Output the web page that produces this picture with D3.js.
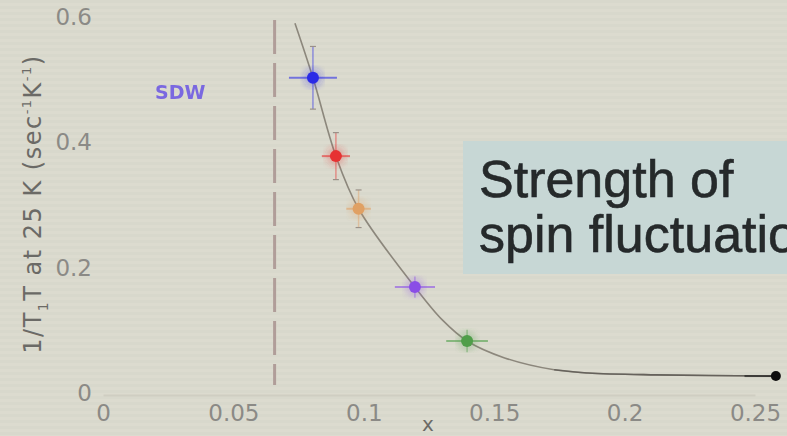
<!DOCTYPE html>
<html lang="en">
<head>
<meta charset="utf-8">
<title>Spin fluctuation</title>
<style type="text/css">
  body { margin: 0; background: #dcdbcf; }
  svg { display: block; }
</style>
</head>
<body>
<script src="https://d3js.org/d3.v7.min.js"></script>
<script>

    // data
    var xTicks = [0, 0.05, 0.1, 0.15, 0.2, 0.25];
    var yTicks = [0, 0.2, 0.4, 0.6];

    var pointX   = [0.0805, 0.0893, 0.098, 0.1196, 0.1396, 0.258];
    var pointY   = [0.503, 0.378, 0.294, 0.169, 0.083, 0.027];
    var pointXErr = [0.0092, 0.0054, 0.0047, 0.0077, 0.008, 0.012];
    var pointYErr = [0.05, 0.0375, 0.03, 0.017, 0.018, 0];
    var pointColor = ["#2b2be6", "#e63232", "#e0a064", "#8a4ee6", "#4f9e4a", "#111111"];

    var curveX = [0.0736, 0.0805, 0.0893, 0.098, 0.1196, 0.130, 0.1396, 0.154, 0.173, 0.186, 0.212, 0.258];
    var curveY = [0.590, 0.503, 0.378, 0.294, 0.169, 0.117, 0.083, 0.056, 0.037, 0.032, 0.029, 0.027];

    var sdwBoundary = 0.0658;

    var W = 787, H = 436;
    var margin = {left: 103, top: 17};
    var width = 652, height = 376;

    var svg = d3.select("body").append("svg")
        .attr("width", W)
        .attr("height", H);

    // faint horizontal banding of the projected slide
    var bands = svg.append("g");
    bands.selectAll("rect")
        .data(d3.range(0, H, 6))
        .enter()
        .append("rect")
        .attr("x", 0).attr("y", function(d){ return d; })
        .attr("width", W).attr("height", 3)
        .attr("fill", "#d6d5c9")
        .attr("opacity", 0.6);

    var defs = svg.append("defs");
    defs.append("filter").attr("id", "soft")
        .append("feGaussianBlur").attr("stdDeviation", 0.7);
    defs.append("filter").attr("id", "glow")
        .append("feGaussianBlur").attr("stdDeviation", 3);

    var xScale = d3.scaleLinear().domain([0, 0.25]).range([0, width]);
    var yScale = d3.scaleLinear().domain([0, 0.6]).range([height, 0]);

    var g = svg.append("g")
        .attr("transform", "translate(" + margin.left + "," + margin.top + ")");

    // text box
    svg.append("rect")
        .attr("x", 463).attr("y", 141)
        .attr("width", 330).attr("height", 133)
        .attr("fill", "#c7d7d5");
    var box = svg.append("text")
        .attr("font-family", "Liberation Sans, Arial, sans-serif")
        .attr("font-size", 52)
        .attr("fill", "#25292b")
        .attr("stroke", "#25292b")
        .attr("stroke-width", 0.6)
        .attr("filter", "url(#soft)");
    box.append("tspan").attr("x", 479).attr("y", 197).text("Strength of");
    box.append("tspan").attr("x", 479).attr("y", 252).text("spin fluctuation");

    // axes
    var xAxis = d3.axisBottom(xScale).tickValues(xTicks).tickSize(0).tickPadding(12)
        .tickFormat(d3.format("~g"));
    var xAxisGroup = g.append("g")
        .attr("transform", "translate(0," + height + ")")
        .call(xAxis);
    xAxisGroup.select(".domain").attr("stroke", "#cfcec2").attr("stroke-width", 2)
        .attr("transform", "translate(0,2)");
    xAxisGroup.selectAll("text")
        .attr("font-family", "DejaVu Sans, sans-serif")
        .attr("font-size", 23)
        .attr("fill", "#8b8a86");

    var yAxis = d3.axisLeft(yScale).tickValues(yTicks).tickSize(0).tickPadding(11)
        .tickFormat(d3.format("~g"));
    var yAxisGroup = g.append("g").call(yAxis);
    yAxisGroup.select(".domain").remove();
    yAxisGroup.selectAll("text")
        .attr("font-family", "DejaVu Sans, sans-serif")
        .attr("font-size", 23)
        .attr("fill", "#8b8a86");

    // axis titles
    var yLabel = svg.append("text")
        .attr("transform", "translate(41,204) rotate(-90)")
        .attr("text-anchor", "middle")
        .attr("font-family", "DejaVu Sans, sans-serif")
        .attr("font-size", 24)
        .attr("letter-spacing", 1.5)
        .attr("fill", "#6b6a66");
    yLabel.append("tspan").text("1/T");
    yLabel.append("tspan").attr("font-size", 14).attr("dy", 7).text("1");
    yLabel.append("tspan").attr("dy", -7).text("T at 25 K (sec");
    yLabel.append("tspan").attr("font-size", 13).attr("dy", -10).text("-1");
    yLabel.append("tspan").attr("dy", 10).text("K");
    yLabel.append("tspan").attr("font-size", 13).attr("dy", -10).text("-1");
    yLabel.append("tspan").attr("dy", 10).text(")");

    svg.append("text")
        .attr("x", 428).attr("y", 431)
        .attr("text-anchor", "middle")
        .attr("font-family", "DejaVu Sans, sans-serif")
        .attr("font-size", 20)
        .attr("fill", "#6b6a66")
        .text("x");

    svg.append("text")
        .attr("x", 155).attr("y", 99)
        .attr("font-family", "DejaVu Sans, sans-serif")
        .attr("font-weight", "bold")
        .attr("font-size", 19)
        .attr("fill", "#7a68e0")
        .attr("filter", "url(#soft)")
        .text("SDW");

    // SDW boundary
    g.append("line")
        .attr("x1", xScale(sdwBoundary)).attr("x2", xScale(sdwBoundary))
        .attr("y1", 3).attr("y2", height - 8)
        .attr("stroke", "#b09d99")
        .attr("stroke-width", 3)
        .attr("stroke-dasharray", "34,9");

    // fit curve
    var curveData = curveX.map(function(d, i){ return [d, curveY[i]]; });
    var line = d3.line()
        .x(function(d){ return xScale(d[0]); })
        .y(function(d){ return yScale(d[1]); })
        .curve(d3.curveCatmullRom.alpha(0.5));
    g.append("path")
        .datum(curveData)
        .attr("d", line)
        .attr("fill", "none")
        .attr("stroke", "#8c877c")
        .attr("stroke-width", 1.6);
    g.append("path")
        .datum(curveData.slice(-4))
        .attr("d", line)
        .attr("fill", "none")
        .attr("stroke", "#55534e")
        .attr("stroke-width", 1.6)
        .attr("opacity", 0.7);

    // points with error bars
    var points = pointX.map(function(d, i){
        return {x: d, y: pointY[i], ex: pointXErr[i], ey: pointYErr[i], c: pointColor[i]};
    });

    var pts = g.selectAll(".pt")
        .data(points)
        .enter()
        .append("g")
        .attr("class", "pt")
        .attr("filter", "url(#soft)");

    pts.append("circle")
        .attr("cx", function(d){ return xScale(d.x); })
        .attr("cy", function(d){ return yScale(d.y); })
        .attr("r", 10)
        .attr("fill", function(d){ return d.c; })
        .attr("opacity", function(d, i){ return i === 5 ? 0 : 0.25; })
        .attr("filter", "url(#glow)");

    pts.append("line")
        .attr("x1", function(d){ return xScale(d.x - d.ex); })
        .attr("x2", function(d){ return xScale(d.x + (d.ey === 0 ? 0 : d.ex)); })
        .attr("y1", function(d){ return yScale(d.y); })
        .attr("y2", function(d){ return yScale(d.y); })
        .attr("stroke", function(d){ return d.c; })
        .attr("stroke-opacity", 0.6)
        .attr("stroke-width", 2);

    pts.filter(function(d){ return d.ey > 0; }).append("line")
        .attr("x1", function(d){ return xScale(d.x); })
        .attr("x2", function(d){ return xScale(d.x); })
        .attr("y1", function(d){ return yScale(d.y - d.ey); })
        .attr("y2", function(d){ return yScale(d.y + d.ey); })
        .attr("stroke", function(d){ return d.c; })
        .attr("stroke-opacity", 0.45)
        .attr("stroke-width", 1.5);

    pts.filter(function(d){ return d.ey > 0.025; }).selectAll(".cap")
        .data(function(d){ return [d.y - d.ey, d.y + d.ey].map(function(v){ return {x: d.x, v: v}; }); })
        .enter()
        .append("line")
        .attr("x1", function(d){ return xScale(d.x) - 3; })
        .attr("x2", function(d){ return xScale(d.x) + 3; })
        .attr("y1", function(d){ return yScale(d.v); })
        .attr("y2", function(d){ return yScale(d.v); })
        .attr("stroke", "#9a9088")
        .attr("stroke-width", 1.2);

    pts.append("circle")
        .attr("cx", function(d){ return xScale(d.x); })
        .attr("cy", function(d){ return yScale(d.y); })
        .attr("r", function(d, i){ return i === 5 ? 5 : 6; })
        .attr("fill", function(d){ return d.c; });

</script>
</body>
</html>
